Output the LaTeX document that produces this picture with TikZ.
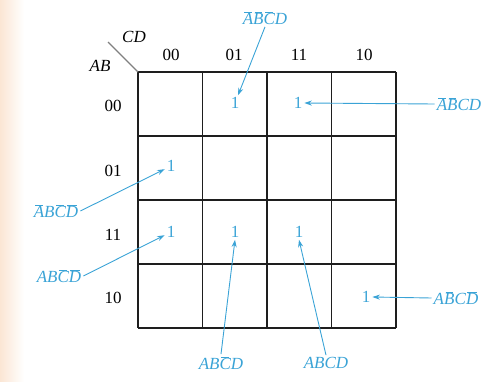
\documentclass[tikz,border=0pt]{standalone}
\usepackage{fontspec}
\setmainfont{Liberation Serif}
\usetikzlibrary{arrows.meta,positioning}
\definecolor{mapc}{HTML}{3AA3D6}
\definecolor{edgec}{HTML}{FBE6D4}
\definecolor{gridc}{HTML}{1E1E1E}
\newcommand{\nb}[1]{\ensuremath{\mkern1.5mu\overline{\mkern-1.5mu\textit{#1}\mkern-1.5mu}\mkern1.5mu}}
\newcommand{\tv}[1]{\textit{#1}}
\tikzset{
  ar/.style={-{Stealth[length=2.6mm,width=1.8mm]},line width=0.9pt,mapc},
  one/.style={text=mapc,font=\fontsize{17}{19}\selectfont,inner sep=2pt},
  lbl/.style={text=mapc,font=\fontsize{17}{19}\selectfont,inner sep=2pt},
  hd/.style={font=\fontsize{17}{19}\selectfont,inner sep=1pt}
}
\begin{document}
\begin{tikzpicture}[x=1pt,y=-1pt]
\useasboundingbox (0,0) rectangle (488,381);
\shade[left color=edgec,right color=white] (0,0) rectangle (24,381);
% map grid
\foreach \c/\x in {0/138,1/202.5,2/267,3/331.5,4/396}{\draw[gridc,line width=1.2pt] (\x,72)--(\x,328);}
\foreach \r/\y in {0/72,1/136,2/200,3/264,4/328}{\draw[gridc,line width=1.2pt] (138,\y)--(396,\y);}
\draw[gray,line width=1.4pt] (138,72)--(108,42);
\node[hd] (cd) at (134,37) {\tv{CD}};
\node[hd] (ab) at (100,66) {\tv{AB}};
\foreach \t/\x in {00/171,01/234,11/299,10/364}{\node[hd] (c\t) at (\x,55) {\t};}
\foreach \t/\y in {00/106,01/171,11/235,10/298}{\node[hd] (r\t) at (113,\y) {\t};}
% ones
\node[one] (m1) at (235,103) {1};
\node[one] (m3) at (298,103) {1};
\node[one] (m4) at (171,166) {1};
\node[one] (m12) at (171,232) {1};
\node[one] (m13) at (235,232) {1};
\node[one] (m15) at (299,232) {1};
\node[one] (m10) at (366,297) {1};
% minterm labels
\node[lbl] (l1) at (265,18) {\nb{A}\nb{B}\nb{C}\tv{D}};
\node[lbl] (l3) at (459,104) {\nb{A}\nb{B}\tv{CD}};
\node[lbl] (l4) at (56,211) {\nb{A}\tv{B}\nb{C}\nb{D}};
\node[lbl] (l12) at (59,276) {\tv{AB}\nb{C}\nb{D}};
\node[lbl] (l13) at (221,363) {\tv{AB}\nb{C}\tv{D}};
\node[lbl] (l15) at (326,363) {\tv{ABCD}};
\node[lbl] (l10) at (456,298) {\tv{A}\nb{B}\tv{C}\nb{D}};
\draw[ar] (l1.south) -- (m1);
\draw[ar] (l3.west) -- (m3.east);
\draw[ar] (l4.east) -- (m4);
\draw[ar] (l12.east) -- (m12);
\draw[ar] (l13.north) -- (m13.south);
\draw[ar] (l15.north) -- (m15.south);
\draw[ar] (l10.west) -- (m10.east);
\end{tikzpicture}
\end{document}
